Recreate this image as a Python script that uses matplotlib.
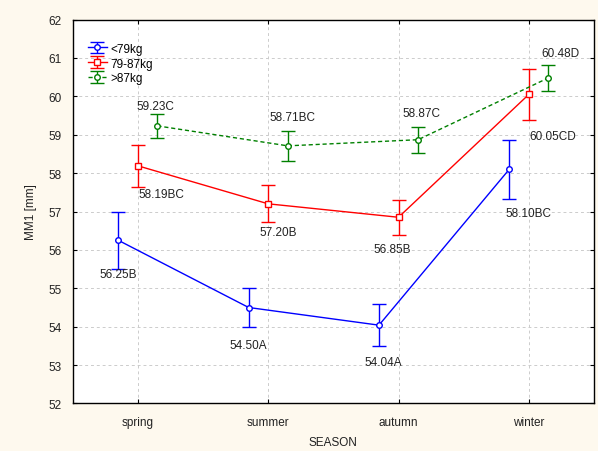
import numpy as np
import matplotlib
matplotlib.use("Agg")
import matplotlib.pyplot as plt

plt.rcParams['font.family'] = ['Liberation Sans', 'DejaVu Sans']

# MM1 by season for three body-weight groups
seasons = ["spring", "summer", "autumn", "winter"]
groups = ["<79kg", "79-87kg", ">87kg"]

mean_light = [56.25, 54.50, 54.04, 58.10]
mean_mid = [58.19, 57.20, 56.85, 60.05]
mean_heavy = [59.23, 58.71, 58.87, 60.48]

err_light = [0.74, 0.51, 0.54, 0.77]
err_mid = [0.55, 0.48, 0.46, 0.66]
err_heavy = [0.32, 0.39, 0.34, 0.34]

letters_light = ["B", "A", "A", "BC"]
letters_mid = ["BC", "B", "B", "CD"]
letters_heavy = ["C", "BC", "C", "D"]

# label placement, offset in pixels from each point
off_light = [(0, -34), (0, -37), (4, -37), (19, -44)]
off_mid = [(24, -28), (10, -28), (-6, -32), (24, -42)]
off_heavy = [(-2, 20), (5, 29), (3, 27), (12, 25)]

series = [
    (mean_light, err_light, letters_light, off_light, "#0000ff", "o", "-", -0.15),
    (mean_mid, err_mid, letters_mid, off_mid, "#ff0000", "s", "-", 0.0),
    (mean_heavy, err_heavy, letters_heavy, off_heavy, "#008000", "o", (0, (3, 2)), 0.15),
]

fig = plt.figure(figsize=(5.98, 4.52), dpi=100, facecolor="#fef9ee")
ax = fig.add_axes([0.1216, 0.1051, 0.8717, 0.8495])
ax.set_facecolor("white")

x = np.arange(len(seasons))
for (means, errs, letters, offs, color, marker, ls, shift), name in zip(series, groups):
    xs = x + shift
    ax.errorbar(xs, means, yerr=errs, color=color, linestyle=ls, linewidth=1,
                marker=marker, markersize=4, markerfacecolor="white",
                markeredgecolor=color, markeredgewidth=1,
                ecolor=color, elinewidth=1, capsize=5, capthick=1,
                label=name, zorder=3)
    for xi, m, lt, (dx, dy) in zip(xs, means, letters, offs):
        ax.annotate(f"{m:.2f}{lt}", xy=(xi, m), xytext=(dx, dy),
                    textcoords="offset pixels", ha="center", va="center",
                    fontsize=8.5, color="#222222", zorder=4)

ax.set_xlim(-0.5, 3.5)
ax.set_ylim(52, 62)
ax.set_xticks(x)
ax.set_xticklabels(seasons)
ax.set_yticks(np.arange(52, 63, 1))
ax.tick_params(axis="both", labelsize=8.5, direction="in", length=3,
               width=0.8, colors="black", labelcolor="#222222", pad=8,
               top=True, right=True)
ax.tick_params(axis="x", pad=9)

ax.grid(True, linestyle=(0, (3, 3)), color="#cccccc", linewidth=0.7, zorder=0)
ax.set_axisbelow(True)
for sp in ax.spines.values():
    sp.set_linewidth(1)
    sp.set_color("black")

ax.set_xlabel("SEASON", fontsize=8.5, color="#222222", labelpad=6)
ax.set_ylabel("MM1 [mm]", fontsize=8.5, color="#222222", labelpad=8)

ax.legend(loc="upper left", bbox_to_anchor=(0.029, 0.94), frameon=False,
          fontsize=8.5, handlelength=1.6, handletextpad=0.3,
          labelspacing=0.25, borderpad=0, borderaxespad=0)

fig.savefig("out.png", dpi=100, facecolor=fig.get_facecolor())
